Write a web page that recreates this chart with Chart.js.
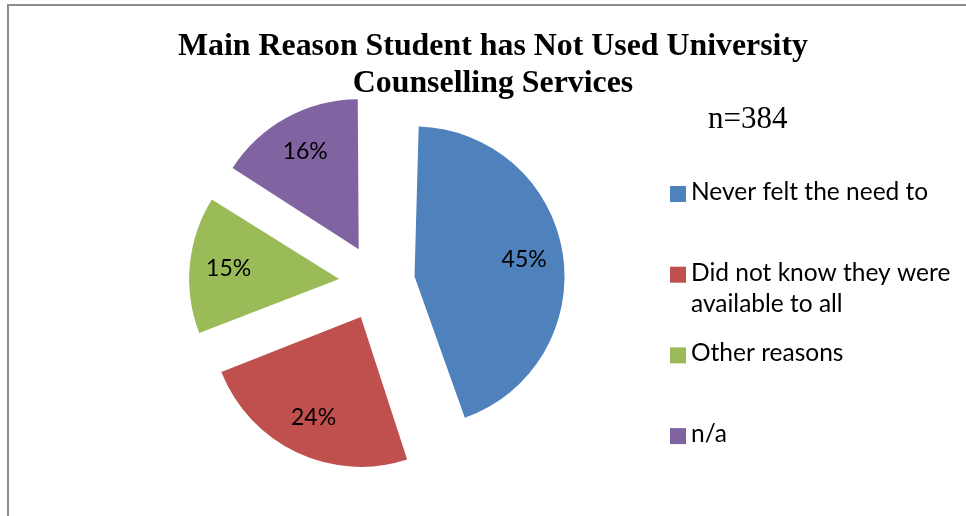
<!DOCTYPE html>
<html>
<head>
<meta charset="utf-8">
<script src="https://cdn.jsdelivr.net/npm/chart.js@4.4.0/dist/chart.umd.min.js"></script>
<style>
  html, body { margin: 0; padding: 0; background: #fff; }
  .container { position: relative; width: 966px; height: 516px; }
</style>
</head>
<body>
<div class="container"><canvas id="myChart" width="966" height="516"></canvas></div>
<script>
// data for the pie
const reason_labels = ['Never felt the need to', 'Did not know they were available to all', 'Other reasons', 'n/a']
const legend_lines = [['Never felt the need to'], ['Did not know they were', 'available to all'], ['Other reasons'], ['n/a']]
const reason_percent = [45, 24, 15, 16]
const slice_colors = ['#4f81bd', '#c0504d', '#9bbb59', '#8064a2']
const title_lines = ['Main Reason Student has Not Used University', 'Counselling Services']
const sample_note = 'n=384'

// how far every slice is pulled out from the middle (px)
const explode_px = 38

// arc.draw in v4 moves a slice by offset/4 and also grows its radius by
// offset/4 * (1 - sin(circumference)); shrink the radius back so all
// slices keep the same size
function fix_for(arc) {
    const circ = arc.endAngle - arc.startAngle
    return 1 - Math.sin(Math.min(Math.PI, circ))
}

const extras_plugin = {
    id: 'extras',
    afterDatasetUpdate(chart, args) {
        const base = args.meta.controller.outerRadius
        args.meta.data.forEach(arc => {
            arc.outerRadius = base - explode_px * fix_for(arc)
        })
    },
    beforeDraw(chart) {
        // grey frame on the top and left
        const ctx = chart.ctx
        ctx.save()
        ctx.strokeStyle = '#8c8c8c'
        ctx.lineWidth = 2
        ctx.beginPath()
        ctx.moveTo(8, 516)
        ctx.lineTo(8, 5)
        ctx.lineTo(966, 5)
        ctx.stroke()
        ctx.restore()
    },
    afterDatasetsDraw(chart) {
        const ctx = chart.ctx
        const meta = chart.getDatasetMeta(0)
        const base = meta.controller.outerRadius

        // percent labels inside the slices
        ctx.save()
        ctx.fillStyle = '#000'
        ctx.font = '23px Lato'
        ctx.textAlign = 'center'
        ctx.textBaseline = 'middle'
        meta.data.forEach((arc, i) => {
            const mid = (arc.startAngle + arc.endAngle) / 2
            const dist = explode_px + base * 0.74
            ctx.fillText(reason_percent[i] + '%', arc.x + Math.cos(mid) * dist, arc.y + Math.sin(mid) * dist)
        })
        ctx.restore()

        // title
        ctx.save()
        ctx.fillStyle = '#000'
        ctx.font = 'bold 32px "Liberation Serif"'
        ctx.textAlign = 'center'
        ctx.textBaseline = 'alphabetic'
        const sx = Math.min(1, 630 / ctx.measureText(title_lines[0]).width)
        title_lines.forEach((line, i) => {
            ctx.save()
            ctx.translate(493, 55 + i * 36.5)
            ctx.scale(sx, 1)
            ctx.fillText(line, 0, 0)
            ctx.restore()
        })
        ctx.restore()

        // sample size note
        ctx.save()
        ctx.fillStyle = '#000'
        ctx.font = '31px "Liberation Serif"'
        ctx.textBaseline = 'alphabetic'
        ctx.fillText(sample_note, 708, 128)
        ctx.restore()

        // legend
        ctx.save()
        ctx.font = '24.5px Lato'
        ctx.textBaseline = 'alphabetic'
        legend_lines.forEach((lines, i) => {
            const y = 200 + i * 80.7
            ctx.fillStyle = slice_colors[i]
            ctx.fillRect(670, y - 14, 16, 16)
            ctx.fillStyle = '#000'
            lines.forEach((t, j) => ctx.fillText(t, 691, y + j * 31))
        })
        ctx.restore()
    }
}

const ctx = document.getElementById('myChart').getContext('2d')
const myChart = new Chart(ctx, {
    type: 'pie',
    data: {
        labels: reason_labels,
        datasets: [{
            data: reason_percent,
            backgroundColor: slice_colors,
            borderWidth: 0,
            radius: 150,
            offset: explode_px * 4,
            hoverOffset: 0
        }]
    },
    options: {
        responsive: false,
        animation: false,
        events: [],
        layout: { padding: { left: 20, right: 232, top: 60, bottom: 11 } },
        plugins: {
            legend: { display: false },
            title: { display: false },
            tooltip: { enabled: false }
        }
    },
    plugins: [extras_plugin]
})
</script>
</body>
</html>
